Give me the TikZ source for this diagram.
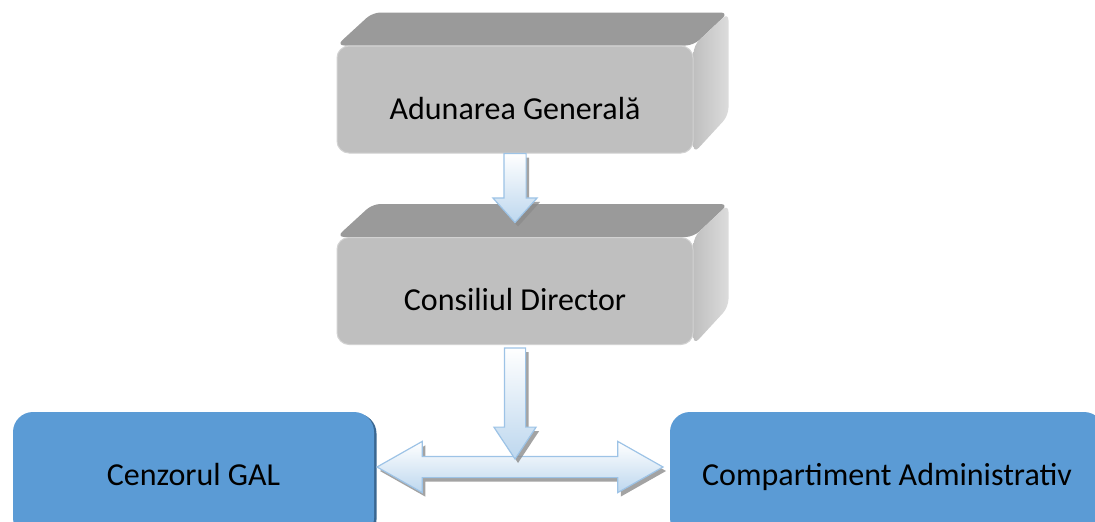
\documentclass[tikz,border=0pt]{standalone}
\usepackage{fontspec}
\setmainfont{Carlito}
\usetikzlibrary{shapes.arrows, shadows, backgrounds, calc}
\definecolor{frontgray}{HTML}{BFBFBF}
\definecolor{topgray}{HTML}{9A9A9A}
\definecolor{sidegray}{HTML}{DCDCDC}
\definecolor{galblue}{HTML}{5B9BD5}
\definecolor{galshadow}{HTML}{3A6791}
\definecolor{arrline}{HTML}{9DC3E6}
\definecolor{arrfill}{HTML}{BDD7EE}

\begin{document}
\begin{tikzpicture}[x=1pt, y=-1pt,
    boxfront/.style={fill=frontgray, draw=frontgray!70!white, line width=1pt, rounded corners=12pt,
      minimum width=356pt, minimum height=107pt, inner sep=0pt,
      font=\fontsize{32}{36}\selectfont, text height=39pt, text depth=0pt},
    galbox/.style={fill=galblue, rounded corners=20pt, minimum height=126pt, inner sep=0pt,
      font=\fontsize{32}{36}\selectfont, text height=20pt, text depth=0pt,
      drop shadow={shadow xshift=2.5pt, shadow yshift=-1.5pt, fill=galshadow, opacity=1}},
    blockarrow/.style={draw=arrline, line width=1.2pt, inner xsep=0pt, inner ysep=10pt, outer sep=0pt,
      top color=white, bottom color=arrfill,
      drop shadow={shadow xshift=3pt, shadow yshift=-4pt, fill=black!45, opacity=0.8}},
    downarrow/.style={blockarrow, single arrow, shape border rotate=270, anchor=tail,
      inner xsep=10.5pt, inner ysep=0pt}]
  \path[use as bounding box, clip] (0,0) rectangle (1095,522);
  %adunarea generala
  \node[boxfront] (ag) at (515,99.5) {Adunarea Generală};
  %consiliul director
  \node[boxfront] (cd) at (515,291) {Consiliul Director};
  \begin{scope}[on background layer]
    \foreach \b in {ag, cd}{
      \fill[topgray, rounded corners=8pt] (\b.north west) -- ++(36,-33)
        -- ($(\b.north east)+(35,-33)$) -- (\b.north east) -- cycle;
      \shade[left color=frontgray, right color=sidegray, rounded corners=8pt] (\b.north east)
        -- ++(35,-33) -- ($(\b.south east)+(35,-38)$) -- (\b.south east) -- cycle;
    }
  \end{scope}
  %cenzor si compartiment
  \node[galbox, minimum width=361pt] (cg) at (193.5,475) {Cenzorul GAL};
  \node[galbox, minimum width=434pt] (ca) at (887,475) {Compartiment Administrativ};
  %sageti
  \node[downarrow, minimum height=69pt, single arrow head extend=11pt,
    single arrow tip angle=84] (a1) at (ag.south) {};
  \node[blockarrow, double arrow,
    minimum height=286pt, double arrow head extend=15pt,
    double arrow tip angle=59] (lr) at ($(cg.east)!0.5!(ca.west)+(-2,-8)$) {};
  \node[downarrow, inner xsep=10pt, minimum height=111pt, single arrow head extend=10.5pt,
    single arrow tip angle=67] (a2) at ($(cd.south)+(0,3)$) {};
\end{tikzpicture}
\end{document}
